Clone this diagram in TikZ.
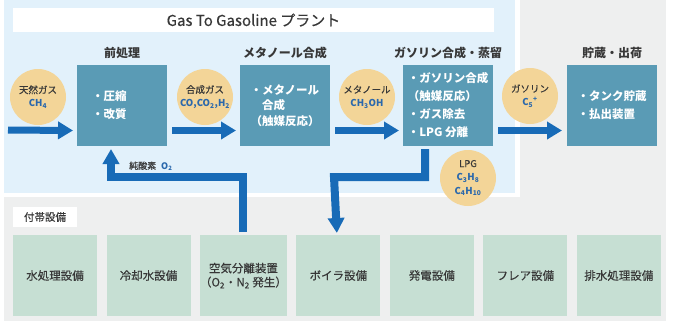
\documentclass[tikz,border=0pt]{standalone}
\usepackage{fontspec}
\setmainfont{Noto Sans CJK JP}[UprightFeatures={FakeBold=0.35}]
\usetikzlibrary{arrows.meta,positioning}

\definecolor{bggray}{RGB}{238,239,239}
\definecolor{paneblue}{RGB}{226,241,251}
\definecolor{boxblue}{RGB}{90,155,181}
\definecolor{tan}{RGB}{243,213,152}
\definecolor{flowblue}{RGB}{24,107,183}
\definecolor{subgreen}{RGB}{198,223,211}
\definecolor{textdark}{RGB}{55,55,55}
\definecolor{chemblue}{RGB}{42,104,172}

\newcommand{\chem}[1]{{\color{chemblue}\bfseries #1}}

\begin{document}
\begin{tikzpicture}[
    x=1pt, y=-1pt,
    node distance=73pt,
    unit/.style={fill=boxblue, text=white, align=left, minimum width=90pt, minimum height=81pt, inner sep=0pt, outer sep=0pt, font=\fontsize{11.5}{18}\selectfont\bfseries},
    stage/.style={inner sep=0pt, text=textdark, font=\fontsize{12}{14}\selectfont\bfseries},
    stream/.style={circle, fill=tan, minimum size=56pt, inner sep=0pt, align=center, text=textdark, font=\fontsize{9.5}{13.5}\selectfont},
    utility/.style={fill=subgreen, minimum width=84pt, minimum height=81pt, inner sep=0pt, outer sep=0pt, align=center, text=textdark, font=\fontsize{11.5}{14}\selectfont},
    flow/.style={-{Triangle[length=15pt,width=17pt]}, draw=flowblue, line width=7pt},
    feed/.style={-{Triangle[length=15pt,width=16pt]}, draw=flowblue, line width=8pt}
]
\useasboundingbox (0,0) rectangle (674,322);
\fill[bggray] (4,0) rectangle (666,321);
\fill[white] (4,0) rectangle (520,197);
\fill[paneblue] (4,0) rectangle (515,193);

\node[fill=white, minimum width=481pt, minimum height=24pt, inner sep=0pt, text=textdark, font=\fontsize{15}{17}\selectfont] (title) at (253.5,20) {Gas To Gasoline プラント};

% main process
\node[unit, text width=60pt] (pre) at (122,105.5) {・圧縮\\・改質};
\node[unit, right=of pre, font=\fontsize{11.5}{15.5}\selectfont\bfseries] (meoh) {・メタノール\\　合成\\（触媒反応）};
\node[unit, right=of meoh] (gsyn) {・ガソリン合成\\（触媒反応）\\・ガス除去\\・LPG 分離};
\node[unit, right=74pt of gsyn] (store) {・タンク貯蔵\\・払出装置};

\node[stage, above=6pt of pre] (preT) {前処理};
\node[stage, above=6pt of meoh] (meohT) {メタノール合成};
\node[stage, above=6pt of gsyn] (gsynT) {ガソリン合成・蒸留};
\node[stage, above=6pt of store] (storeT) {貯蔵・出荷};

\node[stream] (natgas) at (38,97) {天然ガス\\\chem{CH\textsubscript{4}}};
\node[stream] (syngas) at (205,97) {合成ガス\\\chem{CO,CO\textsubscript{2},H\textsubscript{2}}};
\node[stream] (methanol) at (367,97) {メタノール\\\chem{CH\textsubscript{3}OH}};
\node[stream] (gasoline) at (530,96) {ガソリン\\\chem{C\textsubscript{5}\textsuperscript{+}}};
\node[stream] (lpg) at (468,178) {LPG\\\chem{C\textsubscript{3}H\textsubscript{8}}\\\chem{C\textsubscript{4}H\textsubscript{10}}};

% utilities
\node[fill=white, minimum width=64pt, minimum height=20pt, inner sep=0pt, text=textdark, font=\fontsize{10.5}{12}\selectfont] (utilT) at (45,217) {付帯設備};
\node[utility] (water) at (55,275.5) {水処理設備};
\node[utility, right=9.5pt of water] (cool) {冷却水設備};
\node[utility, right=9.5pt of cool] (airsep) {空気分離装置\\（O\textsubscript{2}・N\textsubscript{2} 発生）};
\node[utility, right=9.5pt of airsep] (boiler) {ボイラ設備};
\node[utility, right=9.5pt of boiler] (power) {発電設備};
\node[utility, right=9.5pt of power] (flare) {フレア設備};
\node[utility, right=9.5pt of flare] (waste) {排水処理設備};

\coordinate (inlet) at (8,130);
\coordinate (o2bend) at (111,177);
\coordinate (lpgbend) at (334,177);

\draw[flow] (inlet) -- ([xshift=-4pt,yshift=-25pt]pre.west);
\draw[flow] ([xshift=5pt,yshift=-25pt]pre.east) -- ([xshift=-4pt,yshift=-25pt]meoh.west);
\draw[flow] ([xshift=5pt,yshift=-25pt]meoh.east) -- ([xshift=-4pt,yshift=-25pt]gsyn.west);
\draw[flow] ([xshift=5pt,yshift=-25pt]gsyn.east) -- ([xshift=-5pt,yshift=-25pt]store.west);

\draw[feed] ([yshift=3pt]airsep.north) |- (o2bend) -- ([xshift=-11pt,yshift=-3pt]pre.south);
\node[anchor=west, inner sep=0pt, text=textdark, font=\fontsize{9}{11}\selectfont] (o2label) at (129,166) {純酸素\hspace{5pt}\chem{O\textsubscript{2}}};
\draw[feed] ([xshift=-23pt,yshift=-3pt]gsyn.south) |- (lpgbend) -- ([xshift=-1.5pt,yshift=2pt]boiler.north);
\end{tikzpicture}
\end{document}
